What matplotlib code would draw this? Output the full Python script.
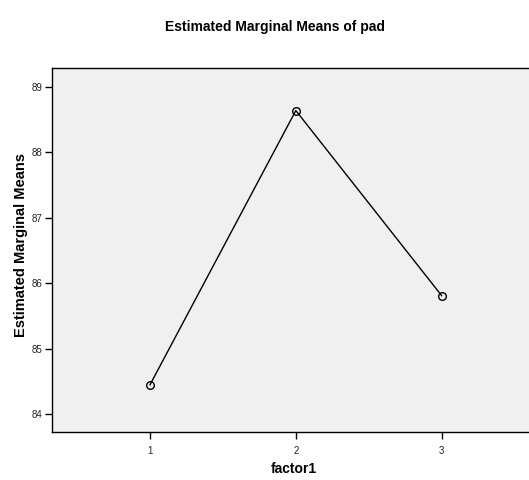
import matplotlib
matplotlib.use("Agg")
import matplotlib.pyplot as plt

categories = [1, 2, 3]
means = [84.45, 88.635, 85.81]
yticks = [84, 85, 86, 87, 88, 89]

plt.rcParams['font.family'] = ['Liberation Sans', 'DejaVu Sans']

fig = plt.figure(figsize=(5.29, 4.8), dpi=100)
ax = fig.add_axes([52/529, 48.3/480, 483/529, 363.4/480])
ax.set_facecolor('#f0f0f0')
ax.plot(categories, means, color='black', linewidth=1.0, marker='o',
        markersize=5.5, markerfacecolor='none', markeredgecolor='black', markeredgewidth=1.0)
ax.set_xlim(0.328, 3.64)
ax.set_ylim(83.734, 89.28)
ax.set_xticks(categories)
ax.set_xticklabels([str(c) for c in categories])
ax.set_yticks(yticks)
ax.set_yticklabels([str(t) for t in yticks])
ax.tick_params(axis='both', labelsize=7, length=5, width=1, colors='black', labelcolor='#222222')
ax.tick_params(axis='x', pad=5)
ax.tick_params(axis='y', pad=2)
for s in ax.spines.values():
    s.set_linewidth(1.0)
    s.set_color('black')
ax.set_xlabel('factor1', fontsize=10, fontweight='bold', labelpad=4.5)
ax.set_ylabel('Estimated Marginal Means', fontsize=10.5, fontweight='bold', va='center')
ax.yaxis.set_label_coords(-0.064, 0.514)
fig.text(275/529, 1 - 27/480, 'Estimated Marginal Means of pad', ha='center', va='center',
         fontsize=10, fontweight='bold')
fig.savefig('out.png', dpi=100)
